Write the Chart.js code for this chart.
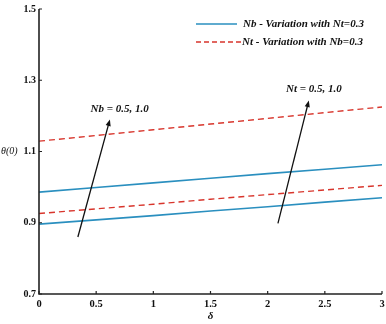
<!DOCTYPE html>
<html>
<head>
<meta charset="utf-8">
<script src="https://cdn.jsdelivr.net/npm/chart.js@4"></script>
<style>
  html, body { margin: 0; padding: 0; background: #fff; }
  #wrap { width: 386px; height: 324px; position: relative; }
</style>
</head>
<body>
<div id="wrap"><canvas id="c" width="386" height="324"></canvas></div>
<script>
const delta = [0, 0.5, 1, 1.5, 2, 2.5, 3];
const nbHigh = [0.986, 0.999, 1.012, 1.025, 1.038, 1.050, 1.063];
const nbLow = [0.896, 0.908, 0.920, 0.933, 0.945, 0.958, 0.970];
const ntHigh = [1.129, 1.145, 1.161, 1.177, 1.193, 1.209, 1.225];
const ntLow = [0.926, 0.939, 0.952, 0.966, 0.979, 0.992, 1.005];
const xTicks = [0, 0.5, 1, 1.5, 2, 2.5, 3];
const yTicks = [0.7, 0.9, 1.1, 1.3, 1.5];
const legendLabels = ['Nb - Variation with Nt=0.3', 'Nt - Variation with Nb=0.3'];
// arrows: [x, y] in data units, plus label
const arrows = [
  { from: [0.34, 0.86], to: [0.62, 1.19], text: 'Nb = 0.5, 1.0', at: [0.45, 1.22] },
  { from: [2.09, 0.898], to: [2.36, 1.243], text: 'Nt = 0.5, 1.0', at: [2.16, 1.276] },
];

const BLUE = '#2a8fbf';
const RED = '#d8352c';
const SERIF = '"Liberation Serif", "DejaVu Serif", serif';

function pts(ys) { return delta.map((x, i) => ({ x, y: ys[i] })); }

const blueStyle = { borderColor: BLUE, borderWidth: 1.6, pointRadius: 0, fill: false, tension: 0 };
const redStyle = { borderColor: RED, borderWidth: 1.4, borderDash: [6, 4], pointRadius: 0, fill: false, tension: 0 };

const decor = {
  id: 'decor',
  afterDatasetsDraw(chart) {
    const ctx = chart.ctx;
    const xs = chart.scales.x, ys = chart.scales.y;
    const a = chart.chartArea;
    ctx.save();
    // axis lines
    ctx.strokeStyle = '#222';
    ctx.lineWidth = 1.6;
    ctx.beginPath();
    ctx.moveTo(a.left, a.top);
    ctx.lineTo(a.left, a.bottom);
    ctx.lineTo(a.right, a.bottom);
    ctx.stroke();
    // inward tick marks
    ctx.lineWidth = 1.2;
    ctx.beginPath();
    xTicks.forEach(v => {
      const px = xs.getPixelForValue(v);
      ctx.moveTo(px, a.bottom);
      ctx.lineTo(px, a.bottom - 3);
    });
    yTicks.forEach(v => {
      const py = ys.getPixelForValue(v);
      ctx.moveTo(a.left, py);
      ctx.lineTo(a.left + 3, py);
    });
    ctx.stroke();

    // legend
    ctx.font = 'italic bold 11px ' + SERIF;
    ctx.textBaseline = 'middle';
    ctx.fillStyle = '#111';
    ctx.strokeStyle = BLUE;
    ctx.lineWidth = 1.4;
    ctx.setLineDash([]);
    ctx.beginPath(); ctx.moveTo(196, 24); ctx.lineTo(237, 24); ctx.stroke();
    ctx.fillText(legendLabels[0], 243, 24);
    ctx.strokeStyle = RED;
    ctx.setLineDash([5, 3]);
    ctx.beginPath(); ctx.moveTo(196, 42); ctx.lineTo(241, 42); ctx.stroke();
    ctx.setLineDash([]);
    ctx.fillText(legendLabels[1], 242, 42);

    // arrows
    arrows.forEach(ar => {
      const x0 = xs.getPixelForValue(ar.from[0]), y0 = ys.getPixelForValue(ar.from[1]);
      const x1 = xs.getPixelForValue(ar.to[0]), y1 = ys.getPixelForValue(ar.to[1]);
      const ang = Math.atan2(y1 - y0, x1 - x0);
      ctx.strokeStyle = '#111';
      ctx.fillStyle = '#111';
      ctx.lineWidth = 1.3;
      ctx.beginPath(); ctx.moveTo(x0, y0); ctx.lineTo(x1 - 4 * Math.cos(ang), y1 - 4 * Math.sin(ang)); ctx.stroke();
      ctx.beginPath();
      ctx.moveTo(x1, y1);
      ctx.lineTo(x1 - 7 * Math.cos(ang - 0.38), y1 - 7 * Math.sin(ang - 0.38));
      ctx.lineTo(x1 - 7 * Math.cos(ang + 0.38), y1 - 7 * Math.sin(ang + 0.38));
      ctx.closePath();
      ctx.fill();
      ctx.textAlign = 'left';
      ctx.fillText(ar.text, xs.getPixelForValue(ar.at[0]), ys.getPixelForValue(ar.at[1]));
    });

    // axis titles
    ctx.font = 'italic 10px ' + SERIF;
    ctx.textAlign = 'left';
    ctx.fillText('\u03b8(0)', 1, ys.getPixelForValue(1.1));
    ctx.font = 'italic bold 11px ' + SERIF;
    ctx.textAlign = 'center';
    ctx.fillText('\u03b4', (a.left + a.right) / 2, 316);
    ctx.restore();
  }
};

new Chart(document.getElementById('c'), {
  type: 'line',
  data: {
    datasets: [
      { label: 'nbHigh', data: pts(nbHigh), ...blueStyle },
      { label: 'nbLow', data: pts(nbLow), ...blueStyle },
      { label: 'ntHigh', data: pts(ntHigh), ...redStyle },
      { label: 'ntLow', data: pts(ntLow), ...redStyle },
    ],
  },
  options: {
    responsive: false,
    animation: false,
    layout: { padding: { top: 3, right: 1, left: 0, bottom: 0 } },
    plugins: { legend: { display: false }, tooltip: { enabled: false } },
    scales: {
      x: {
        type: 'linear',
        min: 0, max: 3,
        afterFit: s => { s.height = 30; s.paddingRight = 4; },
        afterBuildTicks: s => { s.ticks = xTicks.map(v => ({ value: v })); },
        grid: { display: false, drawTicks: false },
        border: { display: false },
        ticks: {
          color: '#111', padding: 4,
          font: { family: SERIF, weight: 'bold', size: 10.5 },
          callback: v => String(v),
          maxRotation: 0,
        },
      },
      y: {
        type: 'linear',
        min: 0.7, max: 1.5,
        afterFit: s => { s.width = 39; },
        afterBuildTicks: s => { s.ticks = yTicks.map(v => ({ value: v })); },
        grid: { display: false, drawTicks: false },
        border: { display: false },
        ticks: {
          color: '#111', padding: 3,
          font: { family: SERIF, weight: 'bold', size: 10 },
          callback: v => v.toFixed(1),
        },
      },
    },
  },
  plugins: [decor],
});
</script>
</body>
</html>
